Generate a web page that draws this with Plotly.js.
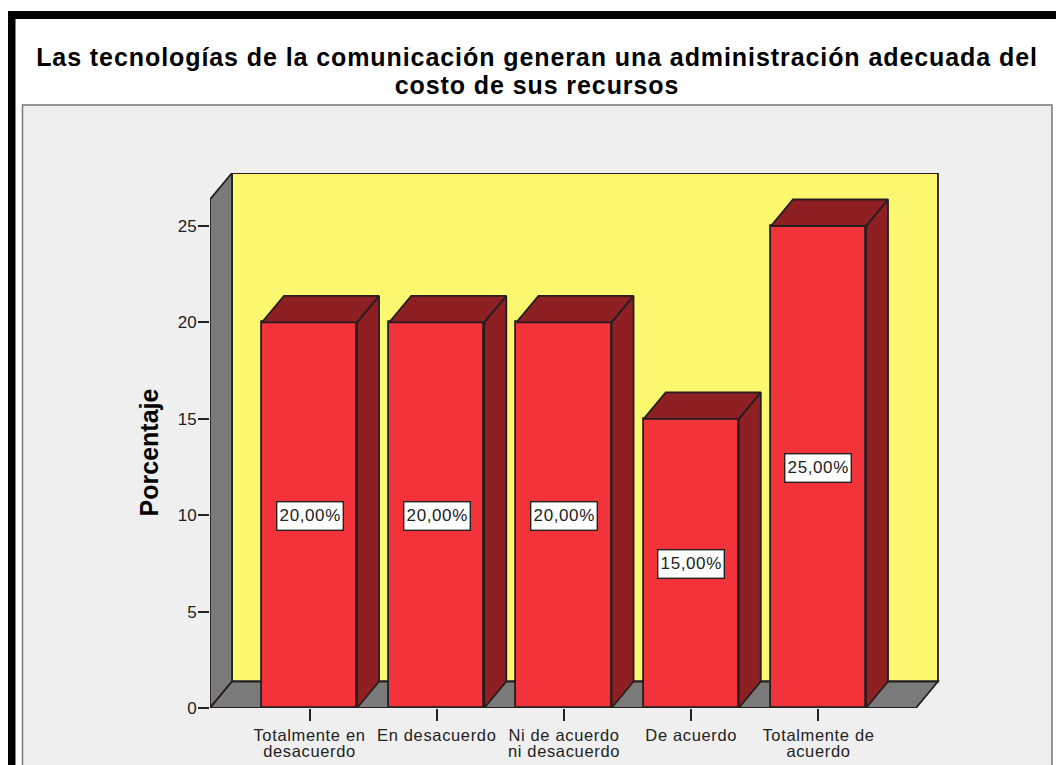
<!DOCTYPE html>
<html><head><meta charset="utf-8">
<script src="https://cdn.plot.ly/plotly-3.0.1.min.js"></script>
<style>html,body{margin:0;padding:0;background:#fff;overflow:hidden}
.gtitle{letter-spacing:0.92px}
.xtick text{letter-spacing:0.65px}
.annotation-text-g text{letter-spacing:0.6px}
</style>
</head><body><div id="chart" style="width:1056px;height:765px"></div>
<script>
const categories = ["Totalmente en<br>desacuerdo","En desacuerdo","Ni de acuerdo<br>ni desacuerdo","De acuerdo","Totalmente de<br>acuerdo"];
const positions = [0,1,2,3,4];
const values = [20,20,20,15,25];
const valueLabels = ["20,00%","20,00%","20,00%","15,00%","25,00%"];
const yTicks = [0,5,10,15,20,25];
const titleText = "Las tecnologías de la comunicación generan una administración adecuada del<br>costo de sus recursos";

const W=1056,H=765,L=210,T=173,PW=730,PH=535;
const xRange=[-0.782,4.955], yTop=27.75, barW=0.747, dX=0.173, dY=1.375, wallR=4.939;
const edge='#231f20', front='#f2343a', dark='#8e1f22', wall='#fbf86f', grey='#7a7a7a';
const px=x=>(x-L)/PW, py=y=>(T+PH-y)/PH;
const poly=(pts)=>({type:'scatter',mode:'lines',x:pts.map(p=>p[0]).concat(pts[0][0]),y:pts.map(p=>p[1]).concat(pts[0][1]),
  fill:'toself',fillcolor:dark,line:{color:edge,width:1.8},hoverinfo:'skip',showlegend:false,cliponaxis:false});
const traces=[{type:'bar',x:positions,y:values,width:barW,marker:{color:front,line:{color:edge,width:1.8}},cliponaxis:false,hoverinfo:'y',showlegend:false}];
positions.forEach((c,i)=>{
  const l=c-barW/2,r=c+barW/2,v=values[i];
  traces.push(poly([[r,0],[r+dX,dY],[r+dX,v+dY],[r,v]]));
  traces.push(poly([[l,v],[l+dX,v+dY],[r+dX,v+dY],[r,v]]));
});
const x0=xRange[0];
const pathOf=pts=>'M'+pts.map(p=>p.join(',')).join('L')+'Z';
const shapes=[
 {type:'rect',xref:'paper',yref:'paper',x0:px(8),x1:px(1060),y0:py(11),y1:py(770),fillcolor:'#000',line:{width:0},layer:'below'},
 {type:'rect',xref:'paper',yref:'paper',x0:px(15.5),x1:px(1060),y0:py(19),y1:py(770),fillcolor:'#fff',line:{width:0},layer:'below'},
 {type:'rect',xref:'paper',yref:'paper',x0:px(22.5),x1:px(1052),y0:py(105),y1:py(775),fillcolor:'#efefef',line:{color:'#777',width:1.5},layer:'below'},
 {type:'path',path:pathOf([[x0+dX,dY],[wallR,dY],[wallR,yTop],[x0+dX,yTop]]),fillcolor:wall,line:{color:edge,width:1.8},layer:'below'},
 {type:'path',path:pathOf([[x0,0],[x0+dX,dY],[x0+dX,yTop],[x0,yTop-dY]]),fillcolor:grey,line:{color:edge,width:1.8},layer:'below'},
 {type:'path',path:pathOf([[x0,0],[wallR-dX,0],[wallR,dY],[x0+dX,dY]]),fillcolor:grey,line:{color:edge,width:1.8},layer:'below'}
];
const annotations=positions.map((c,i)=>({x:c,y:values[i]/2,yshift:-1,text:valueLabels[i],showarrow:false,
  font:{family:'Liberation Sans, Arial, sans-serif',size:17,color:'#222'},bgcolor:'#fff',bordercolor:'#222',borderwidth:1.4,borderpad:4}));
const layout={width:W,height:H,margin:{l:L,r:W-L-PW,t:T,b:H-T-PH},paper_bgcolor:'#fff',plot_bgcolor:'rgba(0,0,0,0)',
  font:{family:'Liberation Sans, Arial, sans-serif',color:'#222',size:17},showlegend:false,bargap:0,
  title:{text:titleText,x:537/W,xanchor:'center',y:1-66/H,yanchor:'top',font:{family:'Liberation Sans, Arial, sans-serif',size:25,weight:'bold',color:'#000'}},
  xaxis:{range:xRange,tickmode:'array',tickvals:positions,ticktext:categories,ticks:'outside',ticklen:12,tickwidth:1.5,tickcolor:'#222',
    showgrid:false,zeroline:false,showline:false,tickangle:0,tickfont:{size:16.5,color:'#222'},automargin:false},
  yaxis:{range:[0,yTop],tickmode:'array',tickvals:yTicks,ticktext:yTicks.map(String),ticks:'outside',ticklen:11,tickwidth:1.5,tickcolor:'#222',ticklabelstandoff:-2,
    showgrid:false,zeroline:false,showline:false,tickfont:{size:17,color:'#222'},automargin:false,
    title:{text:'Porcentaje',font:{size:25,weight:'bold',color:'#000'},standoff:11}},
  shapes,annotations};
Plotly.newPlot('chart',traces,layout,{displayModeBar:false}).then(()=>{
  document.querySelectorAll('.xtick text tspan.line').forEach(t=>{ if(parseFloat(t.getAttribute('dy'))>0) t.setAttribute('dy','1em'); });
  document.querySelectorAll('.gtitle tspan.line').forEach(t=>{ if(parseFloat(t.getAttribute('dy'))>0) t.setAttribute('dy','1.12em'); });
  const yt=document.querySelector('.ytitle');
  if(yt) yt.setAttribute('transform','translate(0,12) '+(yt.getAttribute('transform')||''));
});
</script></body></html>
